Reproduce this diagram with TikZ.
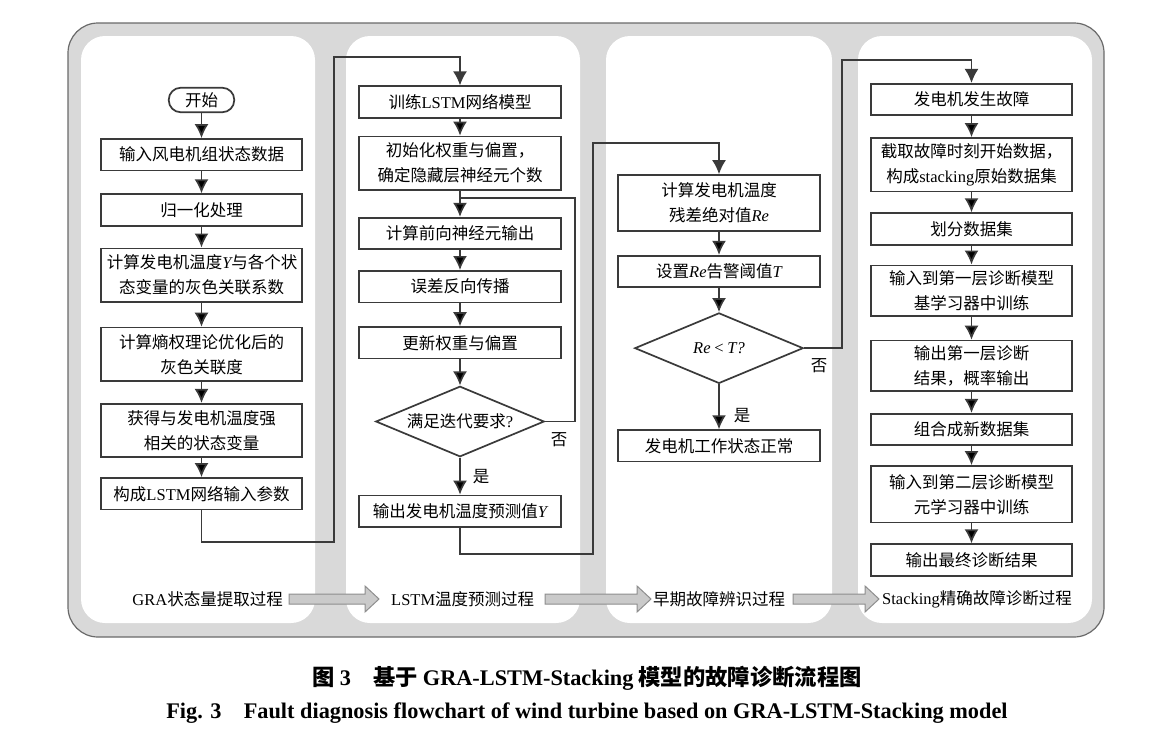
\documentclass[tikz,border=0pt]{standalone}
\usepackage{fontspec}
\setmainfont{Noto Sans CJK SC}
\newfontfamily\lat{Liberation Serif}
\usepackage{tikz}
\usetikzlibrary{arrows.meta, positioning, shapes}

\definecolor{linec}{HTML}{3A3A3A}
\definecolor{bgc}{HTML}{D9D9D9}
\definecolor{framec}{HTML}{6A6A6A}
\definecolor{fatfill}{HTML}{CACACA}
\definecolor{fatdraw}{HTML}{8E8E8E}
\newcommand{\flowfont}{\fontsize{16.5pt}{25pt}\selectfont}
\newcommand{\figcapfont}{\fontsize{22.3pt}{26pt}\selectfont\bfseries}

\begin{document}
\begin{tikzpicture}[x=1pt, y=-1pt, node distance=21pt,
	stepbox/.style={draw=linec, line width=1.7pt, text width=189.5pt, inner xsep=6pt, inner ysep=0pt, minimum height=31.5pt, align=center, font=\flowfont},
	tallbox/.style={stepbox, minimum height=53.5pt},
	startbox/.style={draw=linec, line width=1.7pt, rounded corners=12pt, minimum width=65.5pt, minimum height=24.5pt, inner sep=0pt, font=\flowfont},
	decision/.style={draw=linec, line width=1.7pt, diamond, aspect=2.36, minimum width=168.5pt, minimum height=70.5pt, inner sep=0pt, font=\flowfont},
	flow/.style={draw=linec, line width=1.7pt, -{Latex[length=14pt, width=14pt]}},
	link/.style={draw=linec, line width=1.7pt},
	yesno/.style={inner sep=0pt, font=\flowfont},
	lbl/.style={inner sep=0pt, font=\flowfont},
	fatarrow/.style={draw=fatdraw, fill=fatfill, line width=1pt},
]

\useasboundingbox (0,0) rectangle (1162,742);

% background
\path [draw=framec, fill=bgc, line width=1.2pt, rounded corners=30pt] (68,23) rectangle (1104,637);
\foreach \a/\b in {81/315, 346/580, 606/832, 858/1092}
	\fill [white, rounded corners=24pt] (\a,36) rectangle (\b,623);

% GRA
\node [startbox] (s0) at (201.5,100) {开始};
\node [stepbox, below=25pt of s0] (s1) {输入风电机组状态数据};
\node [stepbox, below=22pt of s1] (s2) {归一化处理};
\node [tallbox, below=of s2] (s3) {计算发电机温度{\lat\itshape Y}与各个状\\态变量的灰色关联系数};
\node [tallbox, below=24pt of s3] (s4) {计算熵权理论优化后的\\灰色关联度};
\node [tallbox, below=of s4] (s5) {获得与发电机温度强\\相关的状态变量};
\node [stepbox, below=19pt of s5] (s6) {构成{\lat LSTM}网络输入参数};

% LSTM
\node [stepbox] (l1) at (460,102) {训练{\lat LSTM}网络模型};
\node [tallbox, below=17pt of l1] (l2) {初始化权重与偏置，\\确定隐藏层神经元个数};
\node [stepbox, below=26pt of l2] (l3) {计算前向神经元输出};
\node [stepbox, below=20pt of l3] (l4) {误差反向传播};
\node [stepbox, below=23pt of l4] (l5) {更新权重与偏置};
\node [decision, below=26pt of l5] (l6) {满足迭代要求{\lat ?}};
\node [stepbox, below=37pt of l6] (l7) {输出发电机温度预测值{\lat\itshape Y}};

% early fault
\node [tallbox, minimum height=56pt] (e1) at (719,203) {计算发电机温度\\残差绝对值{\lat\itshape Re}};
\node [stepbox, below=23pt of e1] (e2) {设置{\lat\itshape Re}告警阈值{\lat\itshape T}};
\node [decision, below=24pt of e2] (e3) {{\lat\itshape Re} {\lat <} {\lat\itshape T?}};
\node [stepbox, below=45pt of e3] (e4) {发电机工作状态正常};

% Stacking
\node [stepbox] (f1) at (971.5,99.5) {发电机发生故障};
\node [tallbox, below=of f1] (f2) {截取故障时刻开始数据，\\构成{\lat stacking}原始数据集};
\node [stepbox, below=20pt of f2] (f3) {划分数据集};
\node [tallbox, minimum height=50.5pt, below=19pt of f3] (f4) {输入到第一层诊断模型\\基学习器中训练};
\node [tallbox, minimum height=50.5pt, below=23pt of f4] (f5) {输出第一层诊断\\结果，概率输出};
\node [stepbox, below=of f5] (f6) {组合成新数据集};
\node [tallbox, minimum height=56.5pt, below=19pt of f6] (f7) {输入到第二层诊断模型\\元学习器中训练};
\node [stepbox, below=20pt of f7] (f8) {输出最终诊断结果};

\foreach \a/\b in {s0/s1, s1/s2, s2/s3, s3/s4, s4/s5, s5/s6, l1/l2, l2/l3, l3/l4, l4/l5, l5/l6, l6/l7, e1/e2, e2/e3, e3/e4, f1/f2, f2/f3, f3/f4, f4/f5, f5/f6, f6/f7, f7/f8}
	\path [flow] (\a) edge (\b);

% links between the stages
\coordinate (g1) at (334,542);
\coordinate (g2) at (334,57);
\coordinate (r1) at (575,198);
\coordinate (h1) at (593,554);
\coordinate (h2) at (593,143);
\coordinate (k1) at (842,60);

\path [flow] (s6.south) |- (g1) -- (g2) -| (l1.north);
\path [link] (l6.east) -| (r1) -- (r1 -| l3.north);
\path [flow] (l7.south) |- (h1) -- (h2) -| (e1.north);
\path [flow] (e3.east) -| (k1) -| (f1.north);

\node [yesno] (n1) at (559,440) {否};
\node [yesno] (y1) at (481,477) {是};
\node [yesno] (n2) at (819,366) {否};
\node [yesno] (y2) at (742,416) {是};

% stage names
\node [lbl, anchor=east] (p1) at (283,599) {{\lat GRA}状态量提取过程};
\node [lbl, anchor=west] (p2) at (391,599) {{\lat LSTM}温度预测过程};
\node [lbl, anchor=west] (p3) at (653,599) {早期故障辨识过程};
\node [lbl, anchor=west] (p4) at (882,599) {{\lat Stacking}精确故障诊断过程};

\foreach \a/\l in {289/76, 545/92, 793/72}
	\path [fatarrow] (\a,594) -- ++(\l,0) -- ++(0,-8) -- ++(14,13) -- ++(-14,13) -- ++(0,-8) -- ++(-\l,0) -- cycle;

% caption
\node [font=\figcapfont] (cap1) at (587,678) {图 {\lat 3}\quad 基于 {\lat GRA-LSTM-Stacking} 模型的故障诊断流程图};
\node [font=\figcapfont] (cap2) at (587,713) {\lat\bfseries Fig. 3\quad Fault diagnosis flowchart of wind turbine based on GRA-LSTM-Stacking model};

\end{tikzpicture}
\end{document}
